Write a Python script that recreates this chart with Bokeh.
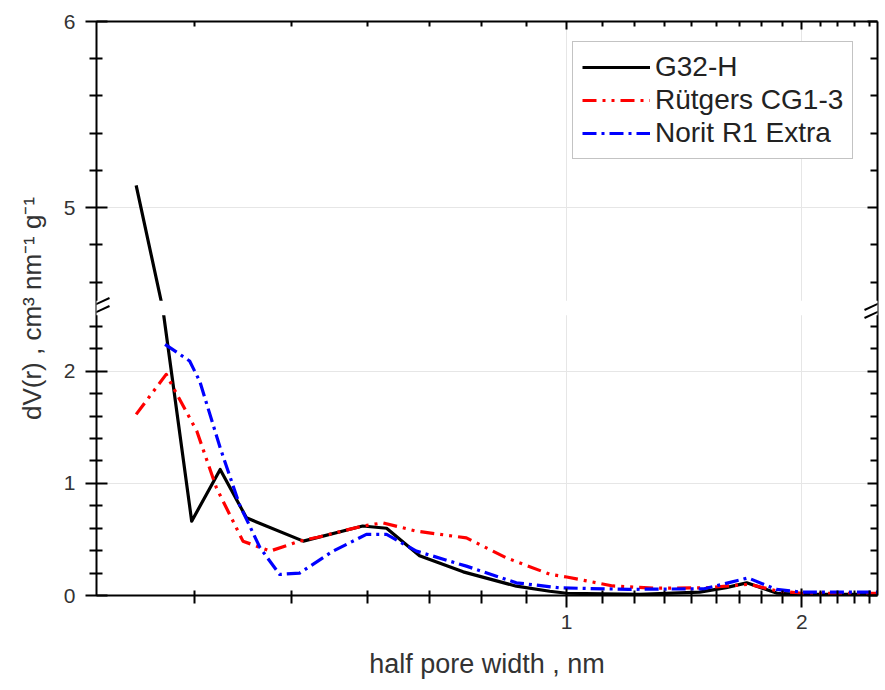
from bokeh.plotting import figure
from bokeh.models import (Range1d, FixedTicker, LogAxis, LinearAxis, CustomJSTickFormatter,
                          CustomJSTransform, BoxAnnotation, Arrow, Legend, LegendItem,
                          ColumnDataSource)
from bokeh.transform import transform
from bokeh.embed import file_html
from bokeh.resources import INLINE

# ---------------- data ----------------
g32_x = [0.281, 0.304, 0.331, 0.360, 0.389, 0.460, 0.548, 0.588, 0.648, 0.737, 0.862, 0.951,
         1.00, 1.24, 1.48, 1.60, 1.70, 1.86, 2.00, 2.50]
g32_y = [5.12, 3.40, 0.663, 1.125, 0.693, 0.485, 0.620, 0.600, 0.354, 0.211, 0.083, 0.038,
         0.020, 0.010, 0.030, 0.070, 0.113, 0.020, 0.010, 0.010]

rut_x = [0.281, 0.307, 0.336, 0.356, 0.385, 0.417, 0.455, 0.480, 0.548, 0.582, 0.642, 0.744,
         0.837, 0.951, 1.00, 1.146, 1.30, 1.50, 1.715, 1.86, 2.00, 2.50]
rut_y = [1.616, 1.973, 1.467, 0.961, 0.485, 0.396, 0.485, 0.520, 0.620, 0.648, 0.574, 0.514,
         0.336, 0.190, 0.165, 0.085, 0.065, 0.068, 0.100, 0.040, 0.020, 0.020]

nor_x = [0.306, 0.329, 0.339, 0.360, 0.381, 0.405, 0.429, 0.455, 0.502, 0.554, 0.588, 0.642,
         0.744, 0.862, 0.980, 1.20, 1.50, 1.707, 1.856, 2.00, 2.50]
nor_y = [2.241, 2.092, 1.910, 1.318, 0.813, 0.425, 0.188, 0.200, 0.396, 0.545, 0.545, 0.396,
         0.262, 0.113, 0.068, 0.055, 0.060, 0.157, 0.054, 0.030, 0.030]

series_names = ["G32-H", "Rütgers CG1-3", "Norit R1 Extra"]

x_major = [1, 2]
x_minor = [3/9, 4/9, 5/9, 6/9, 7/9, 8/9,
           1 + 1/9, 1 + 2/9, 1 + 3/9, 1 + 4/9, 1 + 5/9, 1 + 6/9, 1 + 7/9, 1 + 8/9,
           2 + 1/9, 2 + 2/9, 2 + 3/9, 2 + 4/9]
y_major = [0, 1, 2, 5, 6]
y_minor = [0.2, 0.4, 0.6, 0.8, 1.2, 1.4, 1.6, 1.8, 2.2, 2.4,
           4.6, 4.8, 5.2, 5.4, 5.6, 5.8]

x_label = "half pore width , nm"
y_label = "dV(r) , cm\u00b3 nm\u207b\u00b9 g\u207b\u00b9"

# ---------------- axis break (lower 0..2.5, upper 4.5..6) ----------------
LO, HI = 2.5, 4.5
GAP = 0.13
S = 186.0 / 112.0

def disp(v):
    if v <= LO:
        return v
    if v >= HI:
        return LO + GAP + (v - HI) * S
    return LO + (v - LO) / (HI - LO) * GAP

brk = CustomJSTransform(
    args=dict(lo=LO, hi=HI, gap=GAP, s=S),
    func="""
    if (x <= lo) return x;
    if (x >= hi) return lo + gap + (x - hi) * s;
    return lo + (x - lo) / (hi - lo) * gap;
    """,
    v_func="""
    const out = new Array(xs.length);
    for (let i = 0; i < xs.length; i++) {
      const x = xs[i];
      if (x <= lo) out[i] = x;
      else if (x >= hi) out[i] = lo + gap + (x - hi) * s;
      else out[i] = lo + (x - lo) / (hi - lo) * gap;
    }
    return out;
    """)

FONT = "Liberation Sans"
TXT = "#333333"
FRAME_W = 781

p = figure(width=880, height=687, x_axis_type="log",
           x_range=Range1d(0.25, 2.5), y_range=Range1d(0, disp(6)),
           output_backend="svg", toolbar_location=None,
           min_border_left=96, min_border_right=3, min_border_top=21, min_border_bottom=92,
           outline_line_color=None, background_fill_color="white", border_fill_color="white")

# grids
p.xgrid.ticker = FixedTicker(ticks=x_major)
p.ygrid.ticker = FixedTicker(ticks=[disp(v) for v in y_major])
for g in (p.xgrid[0], p.ygrid[0]):
    g.grid_line_color = "#e6e6e6"
    g.grid_line_width = 1

xtick = FixedTicker(ticks=x_major, minor_ticks=x_minor)
ytick = FixedTicker(ticks=[disp(v) for v in y_major], minor_ticks=[disp(v) for v in y_minor])
yfmt = CustomJSTickFormatter(args=dict(lo=LO, hi=HI, gap=GAP, s=S), code="""
    let v;
    if (tick <= lo + 1e-6) v = tick;
    else v = hi + (tick - lo - gap) / s;
    return Math.round(v).toString();
""")
xfmt = CustomJSTickFormatter(code="return (Math.round(tick * 100) / 100).toString();")
blank = CustomJSTickFormatter(code="return '';")

# bottom axis
xa = p.below[0]
xa.ticker = xtick
xa.formatter = xfmt
xa.axis_label = x_label
xa.axis_line_width = 2
xa.axis_line_color = "black"
xa.major_tick_line_width = 2
xa.minor_tick_line_width = 2
xa.major_tick_line_color = "black"
xa.minor_tick_line_color = "black"
xa.major_tick_in = 7
xa.major_tick_out = 12
xa.minor_tick_in = 5
xa.minor_tick_out = 8
xa.major_label_standoff = 7
xa.major_label_text_font = FONT
xa.major_label_text_font_size = "21px"
xa.major_label_text_color = TXT
xa.axis_label_text_font = FONT
xa.axis_label_text_font_size = "27px"
xa.axis_label_text_font_style = "normal"
xa.axis_label_text_color = TXT
xa.axis_label_standoff = 17

# left axis
ya = p.left[0]
ya.ticker = ytick
ya.formatter = yfmt
ya.axis_label = y_label
ya.axis_line_width = 2
ya.axis_line_color = "black"
ya.major_tick_line_width = 2
ya.minor_tick_line_width = 2
ya.major_tick_line_color = "black"
ya.minor_tick_line_color = "black"
ya.major_tick_in = 11
ya.major_tick_out = 11
ya.minor_tick_in = 6
ya.minor_tick_out = 7
ya.major_label_standoff = 10
ya.major_label_text_font = FONT
ya.major_label_text_font_size = "21px"
ya.major_label_text_color = TXT
ya.axis_label_text_font = FONT
ya.axis_label_text_font_size = "26px"
ya.axis_label_text_font_style = "normal"
ya.axis_label_text_color = TXT
ya.axis_label_standoff = 14

# top and right axes (ticks only)
ta = LogAxis(ticker=xtick, formatter=blank, axis_line_width=2, axis_line_color="black",
             major_tick_in=8, major_tick_out=0, minor_tick_in=5, minor_tick_out=0,
             major_tick_line_width=2, minor_tick_line_width=2, major_label_standoff=0)
p.add_layout(ta, "above")
ra = LinearAxis(ticker=ytick, formatter=blank, axis_line_width=2, axis_line_color="black",
                major_tick_in=10, major_tick_out=0, minor_tick_in=7, minor_tick_out=0,
                major_tick_line_width=2, minor_tick_line_width=2, major_label_standoff=0)
p.add_layout(ra, "right")

# data lines
src_g = ColumnDataSource(dict(x=g32_x, y=g32_y))
src_r = ColumnDataSource(dict(x=rut_x, y=rut_y))
src_n = ColumnDataSource(dict(x=nor_x, y=nor_y))

r_g = p.line("x", transform("y", brk), source=src_g, line_color="black", line_width=3.2,
             line_join="round")
r_r = p.line("x", transform("y", brk), source=src_r, line_color="#ff0000", line_width=3.2,
             line_dash="14 6 3 6 3 6", line_join="round")
r_n = p.line("x", transform("y", brk), source=src_n, line_color="#0000ff", line_width=3.2,
             line_dash="14 5 3 5", line_join="round")

# break band (hides lines inside the break) and break marks
band = BoxAnnotation(left=0.25 * 10 ** (-3 / FRAME_W), right=2.5 * 10 ** (3 / FRAME_W),
                     bottom=LO, top=LO + GAP, fill_color="white", fill_alpha=1.0,
                     line_alpha=0, level="overlay")
p.add_layout(band)
yc = LO + GAP / 2
for xa0 in (0.25, 2.5):
    for off in (-4.0, 4.0):
        arr = Arrow(end=None, x_start=xa0 * 10 ** (-13 / FRAME_W), y_start=yc + (off - 6) / 112,
                    x_end=xa0 * 10 ** (13 / FRAME_W), y_end=yc + (off + 6) / 112,
                    line_color="black", line_width=2, level="overlay")
        p.add_layout(arr)

legend = Legend(items=[LegendItem(label=series_names[0], renderers=[r_g]),
                       LegendItem(label=series_names[1], renderers=[r_r]),
                       LegendItem(label=series_names[2], renderers=[r_n])],
                location=(476, 436), margin=0, padding=9, spacing=1,
                glyph_width=68, glyph_height=28, label_height=28, label_standoff=5,
                label_text_font=FONT, label_text_font_size="28px", label_text_color="#222222",
                label_text_line_height=1.0,
                border_line_color="#888888", border_line_width=1,
                background_fill_color="white", background_fill_alpha=1.0)
p.add_layout(legend)

open("out.html", "w").write(file_html(p, INLINE))
